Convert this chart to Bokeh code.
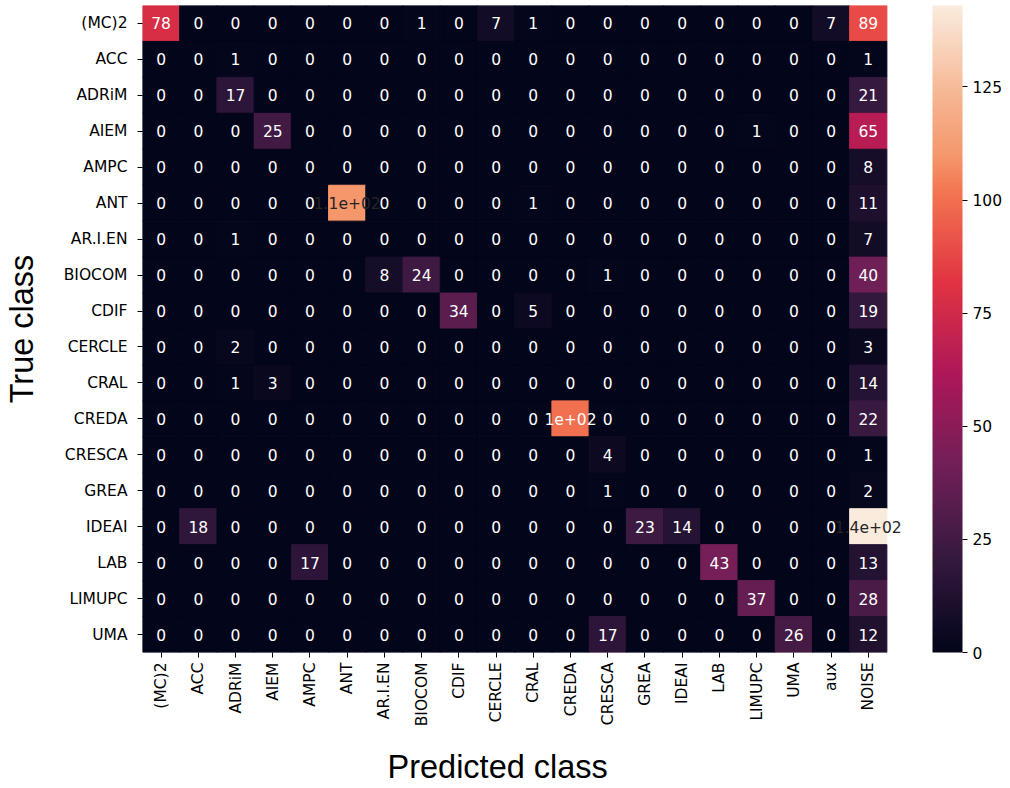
import math
import numpy as np
from bokeh.plotting import figure
from bokeh.models import (ColumnDataSource, LinearColorMapper, ColorBar, FixedTicker, LabelSet,
                          Range1d, Title)
from bokeh.core.properties import value
from bokeh.embed import file_html
from bokeh.resources import INLINE

true_classes = ["(MC)2", "ACC", "ADRiM", "AIEM", "AMPC", "ANT", "AR.I.EN", "BIOCOM", "CDIF",
                "CERCLE", "CRAL", "CREDA", "CRESCA", "GREA", "IDEAI", "LAB", "LIMUPC", "UMA"]
pred_classes = true_classes + ["aux", "NOISE"]

matrix = [
    [78, 0, 0, 0, 0, 0, 0, 1, 0, 7, 1, 0, 0, 0, 0, 0, 0, 0, 7, 89],
    [0, 0, 1, 0, 0, 0, 0, 0, 0, 0, 0, 0, 0, 0, 0, 0, 0, 0, 0, 1],
    [0, 0, 17, 0, 0, 0, 0, 0, 0, 0, 0, 0, 0, 0, 0, 0, 0, 0, 0, 21],
    [0, 0, 0, 25, 0, 0, 0, 0, 0, 0, 0, 0, 0, 0, 0, 0, 1, 0, 0, 65],
    [0, 0, 0, 0, 0, 0, 0, 0, 0, 0, 0, 0, 0, 0, 0, 0, 0, 0, 0, 8],
    [0, 0, 0, 0, 0, 110, 0, 0, 0, 0, 1, 0, 0, 0, 0, 0, 0, 0, 0, 11],
    [0, 0, 1, 0, 0, 0, 0, 0, 0, 0, 0, 0, 0, 0, 0, 0, 0, 0, 0, 7],
    [0, 0, 0, 0, 0, 0, 8, 24, 0, 0, 0, 0, 1, 0, 0, 0, 0, 0, 0, 40],
    [0, 0, 0, 0, 0, 0, 0, 0, 34, 0, 5, 0, 0, 0, 0, 0, 0, 0, 0, 19],
    [0, 0, 2, 0, 0, 0, 0, 0, 0, 0, 0, 0, 0, 0, 0, 0, 0, 0, 0, 3],
    [0, 0, 1, 3, 0, 0, 0, 0, 0, 0, 0, 0, 0, 0, 0, 0, 0, 0, 0, 14],
    [0, 0, 0, 0, 0, 0, 0, 0, 0, 0, 0, 100, 0, 0, 0, 0, 0, 0, 0, 22],
    [0, 0, 0, 0, 0, 0, 0, 0, 0, 0, 0, 0, 4, 0, 0, 0, 0, 0, 0, 1],
    [0, 0, 0, 0, 0, 0, 0, 0, 0, 0, 0, 0, 1, 0, 0, 0, 0, 0, 0, 2],
    [0, 18, 0, 0, 0, 0, 0, 0, 0, 0, 0, 0, 0, 23, 14, 0, 0, 0, 0, 143],
    [0, 0, 0, 0, 17, 0, 0, 0, 0, 0, 0, 0, 0, 0, 0, 43, 0, 0, 0, 13],
    [0, 0, 0, 0, 0, 0, 0, 0, 0, 0, 0, 0, 0, 0, 0, 0, 37, 0, 0, 28],
    [0, 0, 0, 0, 0, 0, 0, 0, 0, 0, 0, 0, 17, 0, 0, 0, 0, 26, 0, 12],
]
colorbar_ticks = [0, 25, 50, 75, 100, 125]

# rocket-like colormap anchors
anchor_pos = [0.0, 1/7, 2/7, 3/7, 4/7, 5/7, 0.77, 6/7, 1.0]
anchor_hex = ["#03051a", "#35193e", "#701f57", "#ad1759", "#e13342", "#f37651", "#f5976c",
              "#f6b48f", "#faebdd"]
anchor_rgb = np.array([[int(h[i:i+2], 16) for i in (1, 3, 5)] for h in anchor_hex], dtype=float)
t = np.linspace(0, 1, 256)
pal_rgb = np.stack([np.interp(t, anchor_pos, anchor_rgb[:, k]) for k in range(3)], axis=1)
palette = ["#%02x%02x%02x" % tuple(int(round(c)) for c in row) for row in pal_rgb]

vmax = max(max(r) for r in matrix)
vmin = 0
n_rows = len(true_classes)
n_cols = len(pred_classes)


def lum(rgb):
    out = []
    for c in rgb:
        c = c / 255.0
        out.append(c / 12.92 if c <= 0.03928 else ((c + 0.055) / 1.055) ** 2.4)
    return 0.2126 * out[0] + 0.7152 * out[1] + 0.0722 * out[2]


xs, ys, vals, labels, tcolors = [], [], [], [], []
for i, r in enumerate(true_classes):
    for j, c in enumerate(pred_classes):
        v = matrix[i][j]
        xs.append(j + 0.5)
        ys.append(n_rows - i - 0.5)
        vals.append(v)
        labels.append("%.2g" % v)
        idx = int(round((v - vmin) / (vmax - vmin) * 255))
        tcolors.append("#262626" if lum(pal_rgb[idx]) > 0.408 else "#ffffff")

src = ColumnDataSource(dict(x=xs, y=ys, v=vals, label=labels, tc=tcolors))
mapper = LinearColorMapper(palette=palette, low=vmin, high=vmax)

cell_w = 37.2
extra = 0.5
p = figure(x_range=Range1d(0, n_cols + extra), y_range=Range1d(0, n_rows),
           frame_width=int(round(cell_w * (n_cols + extra))), frame_height=647,
           min_border_left=142, min_border_top=5, min_border_bottom=136,
           min_border_right=124 - int(round(cell_w * extra)),
           output_backend="svg", toolbar_location=None)
p.outline_line_color = None
p.grid.grid_line_color = None

p.rect(x="x", y="y", width=1, height=1, source=src,
       fill_color={"field": "v", "transform": mapper},
       line_color={"field": "v", "transform": mapper}, line_width=1)
labels_set = LabelSet(x="x", y="y", text="label", source=src, text_color={"field": "tc"},
                      text_align="center", text_baseline="middle",
                      text_font=value("DejaVu Sans"), text_font_size="15.5px", level="overlay")
p.add_layout(labels_set)

p.xaxis.ticker = FixedTicker(ticks=[j + 0.5 for j in range(n_cols)])
p.xaxis.major_label_overrides = {j + 0.5: name for j, name in enumerate(pred_classes)}
p.yaxis.ticker = FixedTicker(ticks=[n_rows - i - 0.5 for i in range(n_rows)])
p.yaxis.major_label_overrides = {n_rows - i - 0.5: name for i, name in enumerate(true_classes)}
p.xaxis.minor_tick_line_color = None
p.yaxis.minor_tick_line_color = None

for ax in (p.xaxis[0], p.yaxis[0]):
    ax.axis_line_color = None
    ax.major_tick_in = 0
    ax.major_tick_out = 5
    ax.major_tick_line_color = "#000000"
    ax.major_label_text_font = "DejaVu Sans"
    ax.major_label_text_font_size = "15.5px"
    ax.major_label_text_color = "#000000"

p.xaxis.major_label_orientation = math.pi / 2
p.xaxis.major_label_standoff = 5
p.yaxis.major_label_standoff = 10

p.yaxis.axis_label = "True class"
p.yaxis.axis_label_standoff = 21
p.yaxis.axis_label_text_font = "Liberation Sans"
p.yaxis.axis_label_text_font_size = "32.5px"
p.yaxis.axis_label_text_font_style = "normal"
p.yaxis.axis_label_text_color = "#000000"

xlabel = Title(text="Predicted class", align="left", offset=245, standoff=34,
               text_font="Liberation Sans", text_font_size="32.5px",
               text_font_style="normal", text_color="#000000")
p.add_layout(xlabel, "below")

cb = ColorBar(color_mapper=mapper, ticker=FixedTicker(ticks=colorbar_ticks),
              width=30, height=647, location=(46 - int(round(cell_w * extra)), 0),
              margin=0, padding=0,
              major_tick_in=0, major_tick_out=5, major_tick_line_color="#000000",
              major_label_text_font="DejaVu Sans", major_label_text_font_size="15.5px",
              major_label_text_color="#000000", label_standoff=5,
              bar_line_color=None, border_line_color=None, background_fill_color=None)
p.add_layout(cb, "right")

open("out.html", "w").write(file_html(p, INLINE))
